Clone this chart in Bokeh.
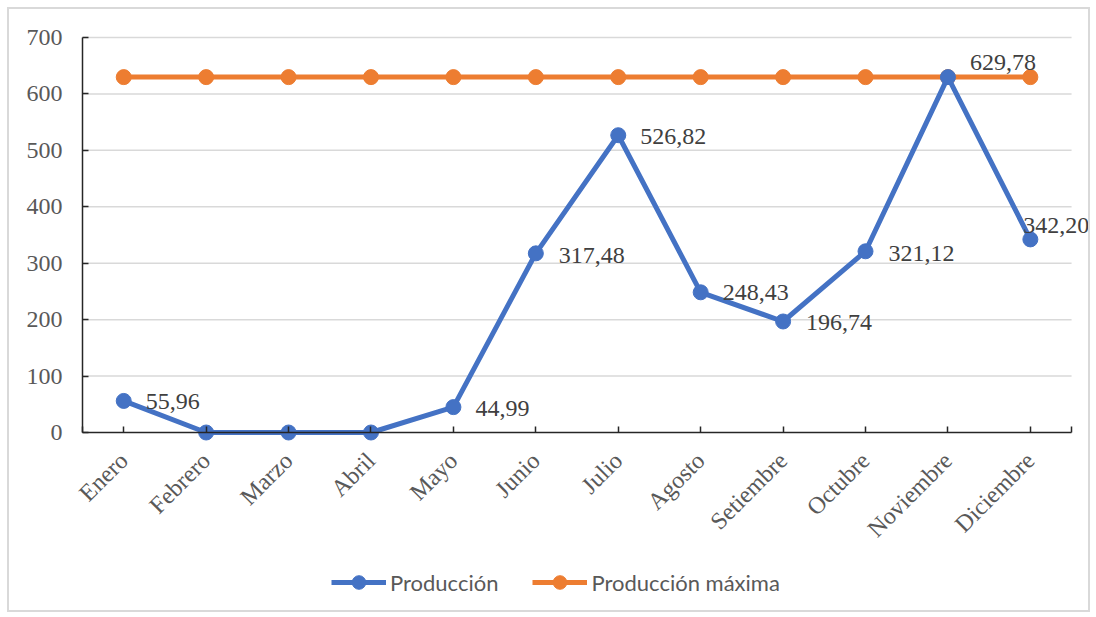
import math
from bokeh.plotting import figure
from bokeh.models import ColumnDataSource, FixedTicker, Legend, LegendItem, Range1d
from bokeh.core.properties import value
from bokeh.embed import file_html
from bokeh.resources import INLINE

meses = ["Enero", "Febrero", "Marzo", "Abril", "Mayo", "Junio", "Julio",
         "Agosto", "Setiembre", "Octubre", "Noviembre", "Diciembre"]
produccion = [55.96, 0, 0, 0, 44.99, 317.48, 526.82, 248.43, 196.74, 321.12, 629.78, 342.20]
produccion_maxima = [629.78, 629.78, 629.78, 629.78, 629.78, 629.78, 629.78,
                     629.78, 629.78, 629.78, 629.78, 629.78]
etiquetas = ["55,96", "", "", "", "44,99", "317,48", "526,82", "248,43",
             "196,74", "321,12", "629,78", "342,20"]
y_ticks = [0, 100, 200, 300, 400, 500, 600, 700]

# label placement (pixels, style only)
lab_dx = [22, 0, 0, 0, 22, 23, 22, 22, 23, 23, 22, -7]
lab_dy = [1, 0, 0, 0, 1, 2, 1, 0, 1, 2, -15, -14]

BLUE = "#4472C4"
ORANGE = "#ED7D31"
SERIF = "Liberation Serif"

xs = list(range(len(meses)))
x_lo = -0.5
x_hi = len(meses) - 0.5
y_lo, y_hi = 0, 700

p = figure(width=1083, height=605, output_backend="svg", toolbar_location=None,
           x_range=Range1d(-1.386, 11.754), y_range=Range1d(-322.5, 749.6),
           min_border_left=0, min_border_right=0, min_border_top=0, min_border_bottom=0,
           margin=(7, 0, 0, 7))
p.styles = {"border": "2px solid #d9d9d9"}
p.outline_line_color = None
p.background_fill_color = "white"
p.border_fill_color = "white"

src_p = ColumnDataSource(dict(x=xs, y=produccion, t=etiquetas, dx=lab_dx, dy=lab_dy))
src_m = ColumnDataSource(dict(x=xs, y=produccion_maxima))
src_g = ColumnDataSource(dict(y=y_ticks[1:]))

# horizontal grid limited to the category axis extent
p.segment(x0=x_lo, x1=x_hi, y0="y", y1="y", source=src_g,
          line_color="#d9d9d9", line_width=1.5, level="underlay")

lm = p.line("x", "y", source=src_m, line_color=ORANGE, line_width=5)
sm = p.scatter("x", "y", source=src_m, size=15, fill_color=ORANGE, line_color=ORANGE)
lp = p.line("x", "y", source=src_p, line_color=BLUE, line_width=5)
sp = p.scatter("x", "y", source=src_p, size=15, fill_color=BLUE, line_color=BLUE)

p.text("x", "y", text="t", source=src_p, x_offset="dx", y_offset="dy",
       text_font=value(SERIF), text_font_size="24px", text_color="#404040",
       text_align="left", text_baseline="middle")

# axes
p.xaxis.fixed_location = y_lo
p.xaxis.bounds = (x_lo, x_hi)
p.xaxis.ticker = FixedTicker(ticks=[x_lo] + xs + [x_hi])
p.xaxis.major_label_overrides = {**{i: m for i, m in enumerate(meses)}, x_lo: "", x_hi: ""}
p.xaxis.major_label_orientation = math.pi / 4
p.xaxis.major_label_text_font = SERIF
p.xaxis.major_label_text_font_size = "24px"
p.xaxis.major_label_text_color = "#595959"
p.xaxis.major_label_standoff = 24
p.xaxis.minor_tick_line_color = None
p.xaxis.major_tick_in = 6
p.xaxis.major_tick_out = 0
p.xaxis.axis_line_color = "#262626"
p.xaxis.axis_line_width = 1.5
p.xaxis.major_tick_line_color = "#262626"
p.xaxis.major_tick_line_width = 1.5

p.yaxis.fixed_location = x_lo
p.yaxis.bounds = (y_lo, y_hi)
p.yaxis.ticker = FixedTicker(ticks=y_ticks)
p.yaxis.major_label_text_font = SERIF
p.yaxis.major_label_text_font_size = "24px"
p.yaxis.major_label_text_color = "#595959"
p.yaxis.major_label_standoff = 20
p.yaxis.minor_tick_line_color = None
p.yaxis.major_tick_in = 6
p.yaxis.major_tick_out = 0
p.yaxis.axis_line_color = "#262626"
p.yaxis.axis_line_width = 1.5
p.yaxis.major_tick_line_color = "#262626"
p.yaxis.major_tick_line_width = 1.5

p.xgrid.grid_line_color = None
p.ygrid.grid_line_color = None

legend = Legend(items=[LegendItem(label="Producción", renderers=[lp, sp]),
                       LegendItem(label="Producción máxima", renderers=[lm, sm])],
                orientation="horizontal", location=(322, 15),
                padding=0, margin=0, spacing=34, label_standoff=4,
                glyph_width=55, glyph_height=34,
                label_text_font="Lato", label_text_font_size="22px",
                label_text_color="#595959", background_fill_alpha=0,
                border_line_color=None)
p.add_layout(legend, "center")

open("out.html", "w").write(file_html(p, INLINE))
